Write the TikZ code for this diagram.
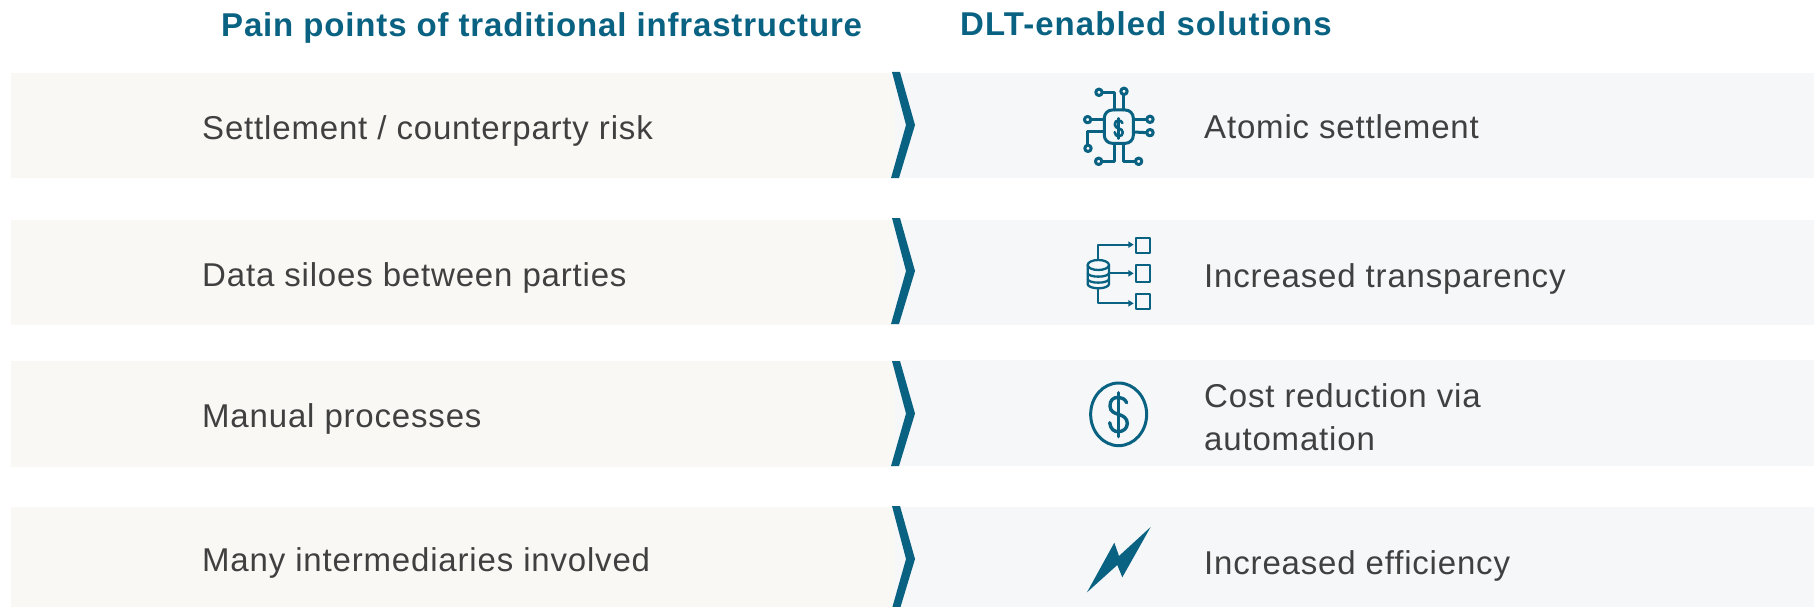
\documentclass[tikz,border=0pt]{standalone}
\usepackage{fontspec}
\setmainfont{Liberation Sans}
\definecolor{teal1}{HTML}{0A6282}
\definecolor{leftbg}{HTML}{F9F8F4}
\definecolor{rightbg}{HTML}{F5F7F9}
\definecolor{txt}{HTML}{404040}
\newcommand{\dollarpath}{%
  \draw (800,158) .. controls (795,147) and (785,142) .. (775,142) .. controls (760,142) and (750,150) .. (750,168) .. controls (750,185) and (765,190) .. (775,193) .. controls (790,197) and (802,205) .. (802,220) .. controls (802,235) and (790,245) .. (775,245) .. controls (762,245) and (752,238) .. (749,218);
  \draw (775,128) -- (775,260);}
\tikzset{
  lab/.style={anchor=base west,inner sep=0pt,text=txt,font=\fontsize{33}{39}\selectfont},
  head/.style={anchor=base west,inner sep=0pt,text=teal1,font=\fontsize{33}{39}\selectfont\bfseries},
  icon/.style={draw=teal1,line width=3pt,fill=none,line cap=round,line join=round},
  pin/.style={draw=teal1,line width=3pt,fill=rightbg},
}
\begin{document}
\begin{tikzpicture}[x=1pt,y=-1pt]
\useasboundingbox (0,0) rectangle (1814,607);
% row backgrounds
\fill[rightbg] (890,73) rectangle (1814,178);
\fill[rightbg] (890,220) rectangle (1814,325);
\fill[rightbg] (890,360) rectangle (1814,466);
\fill[rightbg] (890,507) rectangle (1814,607);
\fill[leftbg] (11,73) rectangle (895,178);
\fill[leftbg] (11,220) rectangle (895,325);
\fill[leftbg] (11,361) rectangle (895,467);
\fill[leftbg] (11,507) rectangle (895,607);
% chevrons
\foreach \t/\m/\b in {72/125/178,218/271/324,361/413.5/466,506/559/612}{
  \fill[teal1] (892,\t) -- (900,\t) -- (915,\m) -- (899,\b) -- (891,\b) -- (906,\m) -- cycle;
}
% headers
\node[head] (h1) at (221,37) {\addfontfeatures{LetterSpace=2.55}Pain points of traditional infrastructure};
\node[head] (h2) at (960,36) {\addfontfeatures{LetterSpace=3.2}DLT-enabled solutions};
% left labels
\node[lab] (l1) at (202,139.5) {\addfontfeatures{LetterSpace=2.5}Settlement / counterparty risk};
\node[lab] (l2) at (202,286) {\addfontfeatures{LetterSpace=2.5}Data siloes between parties};
\node[lab] (l3) at (202,427) {\addfontfeatures{LetterSpace=2.5}Manual processes};
\node[lab] (l4) at (202,571.5) {\addfontfeatures{LetterSpace=2.5}Many intermediaries involved};
% right labels
\node[lab] (r1) at (1204,139) {\addfontfeatures{LetterSpace=2.5}Atomic settlement};
\node[lab] (r2) at (1204,287) {\addfontfeatures{LetterSpace=2.5}Increased transparency};
\node[lab] (r3a) at (1204,407) {\addfontfeatures{LetterSpace=2.5}Cost reduction via};
\node[lab] (r3b) at (1204,450) {\addfontfeatures{LetterSpace=2.5}automation};
\node[lab] (r4) at (1204,574) {\addfontfeatures{LetterSpace=2.5}Increased efficiency};
% icon 1: circuit
\begin{scope}[shift={(860,60)},x=0.3333pt,y=-0.3333pt,icon]
  \draw[icon] (727,97) -- (763,97) -- (763,150);
  \draw[icon] (792,104) -- (792,150);
  \draw[icon] (693,179) -- (733,179);
  \draw[icon] (820,178) -- (860,178);
  \draw[icon] (820,216) -- (860,218);
  \draw[icon] (733,215) -- (684,215) -- (684,255);
  \draw[icon] (763,250) -- (763,304) -- (726,304);
  \draw[icon] (792,250) -- (792,304) -- (826,304);
  \draw[icon,rounded corners=8pt] (733,150) rectangle (820,250);
  \foreach \p in {(717,97),(792,94),(683,179),(870,178),(870,218),(684,265),(716,304),(836,304)}
    \draw[pin] \p circle (3.2pt);
  \begin{scope}[line width=2.6pt,draw=teal1,line cap=round,shift={(776,205)},scale=0.46,shift={(-775,-193)}]
    \dollarpath
  \end{scope}
\end{scope}
% icon 2: database
\begin{scope}[shift={(860,210)},x=0.3333pt,y=-0.3333pt]
  \tikzset{db/.style={draw=teal1,line width=2.3pt,line join=round}}
  \draw[db] (715,150) -- (715,104) -- (812,104);
  \draw[db] (747,190) -- (812,190);
  \draw[db] (715,235) -- (715,280) -- (812,280);
  \foreach \y in {104,190,280}
    \fill[teal1] (821,\y) -- (805,\y-10) -- (805,\y+10) -- cycle;
  \draw[db] (829,83) rectangle (871,128);
  \draw[db] (829,165) rectangle (871,216);
  \draw[db] (829,252) rectangle (871,298);
  \draw[db] (683,165) -- (683,222) arc[start angle=180,end angle=0,x radius=32,y radius=13] -- (747,165);
  \draw[db] (715,165) ellipse[x radius=32,y radius=15];
  \draw[db] (683,189) arc[start angle=180,end angle=0,x radius=32,y radius=11];
  \draw[db] (683,207) arc[start angle=180,end angle=0,x radius=32,y radius=11];
\end{scope}
% icon 3: coin
\begin{scope}[shift={(860,350)},x=0.3333pt,y=-0.3333pt]
  \draw[draw=teal1,line width=3pt] (776,193) ellipse[x radius=84,y radius=94];
  \begin{scope}[draw=teal1,line width=3.4pt,line cap=round]
    \dollarpath
  \end{scope}
\end{scope}
% icon 4: lightning
\begin{scope}[shift={(860,490)},x=0.3333pt,y=-0.3333pt]
  \fill[teal1] (681,307) -- (763,158) -- (777,198) -- (872,111) -- (787,262) -- (772,225) -- cycle;
\end{scope}
\end{tikzpicture}
\end{document}
